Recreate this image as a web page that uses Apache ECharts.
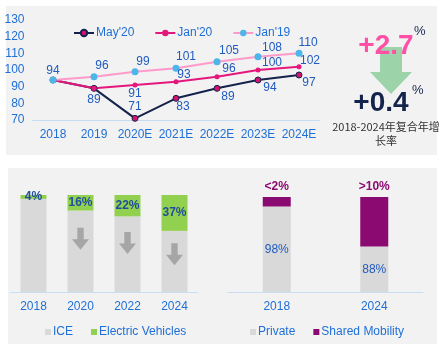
<!DOCTYPE html>
<html lang="zh">
<head>
<meta charset="UTF-8"/>
<title>chart</title>
<script src="https://cdn.jsdelivr.net/npm/echarts@6/dist/echarts.min.js"></script>
<style>
  html, body { margin: 0; padding: 0; background: #fff; }
  #main { width: 442px; height: 350px; }
</style>
</head>
<body>
<div id="main"></div>
<script type="text/javascript">
// 折线图数据
var years = ['2018', '2019', '2020E', '2021E', '2022E', '2023E', '2024E'];
var may20 = [94, 89, 71, 83, 89, 94, 97];
var jan20 = [94, 89, 91, 93, 96, 100, 102];
var jan19 = [94, 96, 99, 101, 105, 108, 110];

// 左下：动力类型占比
var evYears = ['2018', '2020', '2022', '2024'];
var ice = [96, 84, 78, 63];
var ev = [4, 16, 22, 37];
var arrowAt = [[1, 55], [2, 50.5], [3, 39]];

// 右下：出行方式（柱高按图读取，标签为文字）
var mobYears = ['2018', '2024'];
var privateVal = [90, 48];
var sharedVal = [10, 52];
var privateText = ['98%', '88%'];
var sharedText = ['<2%', '>10%'];

var blue = '#1f6fd6';
var labelBlue = '#1f5bbf';
var font = '"Liberation Sans", Arial, sans-serif';

// 标签位置：[position, dx, dy]，null = 不显示
var may20Pos = [null, ['bottom', 0, -2], ['top', 0, 2], ['bottom', 7, -5], ['bottom', 11, -5], ['bottom', 12, -6], ['bottom', 10, -6]];
var jan20Pos = [null, null, ['bottom', 0, -4], ['top', 8, 6], ['top', 12, 5], ['top', 14, 5], ['top', 11, 7]];
var jan19Pos = [['top', 0, 4], ['top', 8, 3], ['top', 8, 4], ['top', 10, 2], ['top', 12, 3], ['top', 14, 5], ['top', 9, 3]];

function withLabels(vals, pos) {
    return vals.map(function (v, i) {
        var p = pos[i];
        if (!p) return { value: v, label: { show: false } };
        return { value: v, label: { show: true, position: p[0], offset: [p[1], p[2]] } };
    });
}

var lineLabel = { color: labelBlue, fontSize: 12, fontFamily: font, distance: 4 };

var arrowPath = 'path://M5,0H11V11H16L8,21L0,11H5Z';

var myChart = echarts.init(document.getElementById('main'));
var option = {
    animation: false,
    textStyle: { fontFamily: font },
    graphic: [
        { type: 'rect', z: -10, shape: { x: 6, y: 6, width: 431, height: 149 }, style: { fill: '#f2f2f2' } },
        { type: 'rect', z: -10, shape: { x: 8, y: 168, width: 429, height: 176 }, style: { fill: '#f2f2f2' } },
        // 绿色箭头
        { type: 'polygon', z: 1, shape: { points: [[380, 47], [402, 47], [402, 72], [412, 72], [391, 94], [370, 72], [380, 72]] },
          style: { fill: '#92cfa0', opacity: 0.9 } },
        { type: 'text', z: 2, x: 386, y: 46, style: { text: '+2.7', fill: '#ff4fa6', font: 'bold 28px ' + font, align: 'center', verticalAlign: 'middle' } },
        { type: 'text', z: 2, x: 414, y: 31, style: { text: '%', fill: '#14234b', font: '13px ' + font, align: 'left', verticalAlign: 'middle' } },
        { type: 'text', z: 2, x: 381, y: 103, style: { text: '+0.4', fill: '#14234b', font: 'bold 28px ' + font, align: 'center', verticalAlign: 'middle' } },
        { type: 'text', z: 2, x: 412, y: 90, style: { text: '%', fill: '#14234b', font: '13px ' + font, align: 'left', verticalAlign: 'middle' } },
        { type: 'text', z: 2, x: 386, y: 127, style: { text: '2018-2024年复合年增', fill: '#333', font: '11px "Noto Sans CJK SC", sans-serif', align: 'center', verticalAlign: 'middle' } },
        { type: 'text', z: 2, x: 386, y: 141, style: { text: '长率', fill: '#333', font: '11px "Noto Sans CJK SC", sans-serif', align: 'center', verticalAlign: 'middle' } }
    ],
    legend: [
        {
            data: ["May'20", "Jan'20", "Jan'19"],
            left: 68, top: 22,
            itemWidth: 20, itemHeight: 8, itemGap: 20,
            textStyle: { color: blue, fontSize: 12, fontFamily: font, padding: [0, 0, 0, -3] }
        },
        {
            data: ['ICE', 'Electric Vehicles'],
            left: 40, top: 321,
            icon: 'rect', itemWidth: 6, itemHeight: 6, itemGap: 18,
            textStyle: { color: blue, fontSize: 12, fontFamily: font, padding: [0, 0, 0, -3] }
        },
        {
            data: ['Private', 'Shared Mobility'],
            left: 245, top: 321,
            icon: 'rect', itemWidth: 6, itemHeight: 6, itemGap: 18,
            textStyle: { color: blue, fontSize: 12, fontFamily: font, padding: [0, 0, 0, -3] }
        }
    ],
    grid: [
        { left: 32.5, top: 20, width: 287, height: 100 },
        { left: 10, top: 195, width: 188, height: 97 },
        { left: 228, top: 197, width: 195, height: 95 }
    ],
    xAxis: [
        { gridIndex: 0, type: 'category', data: years,
          axisLine: { lineStyle: { color: '#c3dcf3' } }, axisTick: { show: false },
          axisLabel: { color: blue, fontSize: 12, margin: 9, interval: 0 } },
        { gridIndex: 1, type: 'category', data: evYears,
          axisLine: { lineStyle: { color: '#c9def3' } }, axisTick: { show: false },
          axisLabel: { color: blue, fontSize: 12, margin: 9, interval: 0 } },
        { gridIndex: 2, type: 'category', data: mobYears,
          axisLine: { lineStyle: { color: '#c9def3' } }, axisTick: { show: false },
          axisLabel: { color: blue, fontSize: 12, margin: 9, interval: 0 } }
    ],
    yAxis: [
        { gridIndex: 0, type: 'value', min: 70, max: 130, interval: 10,
          splitLine: { show: false }, axisLine: { show: false }, axisTick: { show: false },
          axisLabel: { color: blue, fontSize: 12, margin: 8 } },
        { gridIndex: 1, type: 'value', min: 0, max: 100, show: false },
        { gridIndex: 2, type: 'value', min: 0, max: 100, show: false }
    ],
    series: [
        {
            name: "May'20", type: 'line', xAxisIndex: 0, yAxisIndex: 0,
            data: withLabels(may20, may20Pos),
            symbol: 'circle', symbolSize: 6,
            lineStyle: { color: '#14234b', width: 2 },
            itemStyle: { color: '#d2146e', borderColor: '#14234b', borderWidth: 1 },
            label: lineLabel
        },
        {
            name: "Jan'20", type: 'line', xAxisIndex: 0, yAxisIndex: 0,
            data: withLabels(jan20, jan20Pos),
            symbol: 'circle', symbolSize: 5,
            lineStyle: { color: '#e3177c', width: 2 },
            itemStyle: { color: '#e3177c' },
            label: lineLabel
        },
        {
            name: "Jan'19", type: 'line', xAxisIndex: 0, yAxisIndex: 0,
            data: withLabels(jan19, jan19Pos),
            symbol: 'circle', symbolSize: 7,
            lineStyle: { color: '#ff9acb', width: 2 },
            itemStyle: { color: '#4db6e8' },
            label: lineLabel
        },
        {
            name: 'ICE', type: 'bar', xAxisIndex: 1, yAxisIndex: 1, stack: 'ev',
            data: ice, barWidth: 26,
            itemStyle: { color: '#d9d9d9' },
            markPoint: {
                symbol: arrowPath, symbolSize: [17, 22], label: { show: false },
                itemStyle: { color: '#a6a6a6' },
                data: arrowAt.map(function (a) { return { coord: a }; })
            }
        },
        {
            name: 'Electric Vehicles', type: 'bar', xAxisIndex: 1, yAxisIndex: 1, stack: 'ev',
            data: ev, barWidth: 26,
            itemStyle: { color: '#92d050' },
            label: { show: true, position: 'inside', formatter: '{c}%', color: '#1f4e9f',
                     fontSize: 12, fontWeight: 'bold', fontFamily: font }
        },
        {
            name: 'Private', type: 'bar', xAxisIndex: 2, yAxisIndex: 2, stack: 'mob',
            data: privateVal, barWidth: 28,
            itemStyle: { color: '#d9d9d9' },
            label: { show: true, position: 'inside', color: labelBlue, fontSize: 12,
                     formatter: function (p) { return privateText[p.dataIndex]; } }
        },
        {
            name: 'Shared Mobility', type: 'bar', xAxisIndex: 2, yAxisIndex: 2, stack: 'mob',
            data: sharedVal, barWidth: 28,
            itemStyle: { color: '#8b0a72' },
            label: { show: true, position: 'top', distance: 4, color: '#8b0a72', fontSize: 12, fontWeight: 'bold',
                     formatter: function (p) { return sharedText[p.dataIndex]; } }
        }
    ]
};
myChart.setOption(option);
</script>
</body>
</html>
